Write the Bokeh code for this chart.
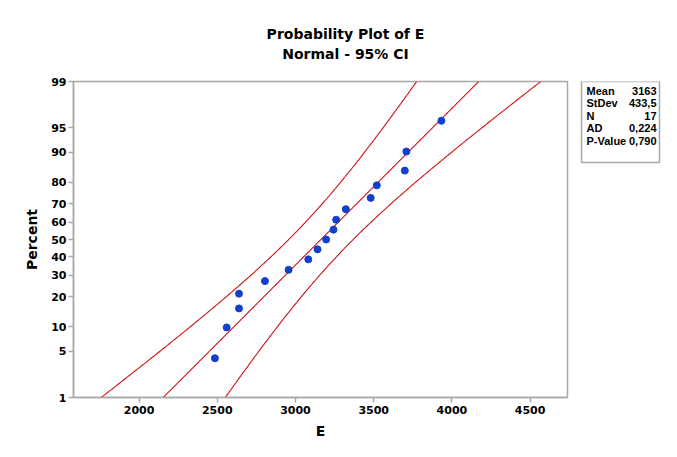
import math
import numpy as np
from bokeh.plotting import figure
from bokeh.layouts import column, row
from bokeh.models import Range1d, FixedTicker
from bokeh.core.properties import value
from bokeh.embed import file_html
from bokeh.resources import INLINE

# ---- data ----
E_values = [2485, 2560, 2639, 2639, 2805, 2956, 3082, 3141, 3196, 3243,
            3260, 3322, 3481, 3520, 3699, 3709, 3933]
mean_E = 3163.0
stdev_E = 433.5
n_E = 17
stat_names = ["Mean", "StDev", "N", "AD", "P-Value"]
stat_values = ["3163", "433,5", "17", "0,224", "0,790"]
percent_ticks = [1, 5, 10, 20, 30, 40, 50, 60, 70, 80, 90, 95, 99]
x_ticks = [2000, 2500, 3000, 3500, 4000, 4500]
title_lines = ["Probability Plot of E", "Normal - 95% CI"]
conf_level = 0.95


def ppf(p):
    lo, hi = -10.0, 10.0
    for _ in range(200):
        mid = 0.5 * (lo + hi)
        if 0.5 * (1.0 + math.erf(mid / math.sqrt(2.0))) < p:
            lo = mid
        else:
            hi = mid
    return 0.5 * (lo + hi)


n = len(E_values)
xs_sorted = sorted(E_values)
probs = [(i + 1 - 0.3) / (n + 0.4) for i in range(n)]
zs = [ppf(q) for q in probs]

y0, y1 = ppf(0.01), ppf(0.99)
x0, x1 = 1581.0, 4739.0

zc = ppf(1 - (1 - conf_level) / 2)
zgrid = np.linspace(y0, y1, 200)
fit = mean_E + stdev_E * zgrid
se = stdev_E * np.sqrt(1.0 / n_E + zgrid ** 2 / (2.0 * n_E))
lower = fit - zc * se
upper = fit + zc * se

FONT = "DejaVu Sans"
BOXFONT = "Liberation Sans"
GREY = "#a8a8a8"
RED = "#cc1515"
BLUE = "#1040cc"

TOTAL_W, TOTAL_H = 661, 441
TITLE_H = 60
MAIN_W = 577
SIDE_W = TOTAL_W - MAIN_W
MAIN_H = TOTAL_H - TITLE_H
FRAME_TOP, FRAME_BOTTOM = 81, 397


def blank(w, h, xr, yr):
    f = figure(width=w, height=h, output_backend="svg", toolbar_location=None,
               x_range=xr, y_range=yr,
               x_axis_location=None, y_axis_location=None,
               min_border=0, outline_line_color=None,
               background_fill_color="white", border_fill_color="white")
    f.grid.visible = False
    return f


# ---- title ----
tf = blank(TOTAL_W, TITLE_H, Range1d(0, TOTAL_W), Range1d(TITLE_H, 0))
tf.text(x=[345, 345], y=[33, 53], text=title_lines,
        text_font=value(FONT), text_font_style="bold",
        text_font_size={"value": "14px"}, text_align="center",
        text_baseline="middle", text_color="black")

# ---- main plot ----
p = figure(width=MAIN_W, height=MAIN_H, output_backend="svg", toolbar_location=None,
           x_range=Range1d(x0, x1), y_range=Range1d(y0, y1),
           min_border_left=73, min_border_right=10,
           min_border_top=FRAME_TOP - TITLE_H,
           min_border_bottom=MAIN_H - (FRAME_BOTTOM - TITLE_H),
           background_fill_color="white", border_fill_color="white")
p.grid.visible = False
p.outline_line_color = GREY
p.outline_line_width = 1.5

for ax in (p.xaxis[0], p.yaxis[0]):
    ax.axis_line_color = GREY
    ax.axis_line_width = 1.5
    ax.major_tick_line_color = GREY
    ax.major_tick_line_width = 1.5
    ax.major_tick_out = 5
    ax.major_tick_in = 0
    ax.minor_tick_line_color = None
    ax.major_label_text_font = FONT
    ax.major_label_text_font_style = "bold"
    ax.major_label_text_font_size = "11px"
    ax.major_label_text_color = "black"
    ax.axis_label_text_font = FONT
    ax.axis_label_text_font_style = "bold"
    ax.axis_label_text_font_size = "14px"
    ax.axis_label_text_color = "black"

p.xaxis.ticker = FixedTicker(ticks=x_ticks)
p.xaxis.axis_label = "E"
p.xaxis.major_label_standoff = 3
p.xaxis.axis_label_standoff = 6

p.yaxis.ticker = FixedTicker(ticks=[ppf(t / 100.0) for t in percent_ticks])
p.yaxis.major_label_overrides = {ppf(t / 100.0): str(t) for t in percent_ticks}
p.yaxis.axis_label = "Percent"
p.yaxis.major_label_standoff = 2
p.yaxis.axis_label_standoff = 8

p.line(lower, zgrid, line_color=RED, line_width=1.1)
p.line(upper, zgrid, line_color=RED, line_width=1.1)
p.line(fit, zgrid, line_color=RED, line_width=1.1)
p.scatter(xs_sorted, zs, size=7, marker="circle", fill_color=BLUE, line_color=BLUE)

# ---- stats box (frame aligned with main plot frame: image coords) ----
sf = blank(SIDE_W, MAIN_H, Range1d(MAIN_W, TOTAL_W), Range1d(FRAME_BOTTOM, FRAME_TOP))
sf.quad(left=[581], right=[TOTAL_W - 2], top=[81], bottom=[162],
        fill_color=None, line_color=GREY, line_width=1.5)
rows_y = [90, 102.5, 115, 127.5, 140]
sf.text(x=[586] * len(stat_names), y=rows_y, text=stat_names,
        text_font=value(BOXFONT), text_font_style="bold",
        text_font_size={"value": "11px"}, text_align="left",
        text_baseline="middle", text_color="black")
sf.text(x=[TOTAL_W - 5] * len(stat_values), y=rows_y, text=stat_values,
        text_font=value(BOXFONT), text_font_style="bold",
        text_font_size={"value": "11px"}, text_align="right",
        text_baseline="middle", text_color="black")

layout = column(tf, row(p, sf))
open("out.html", "w").write(file_html(layout, INLINE))
